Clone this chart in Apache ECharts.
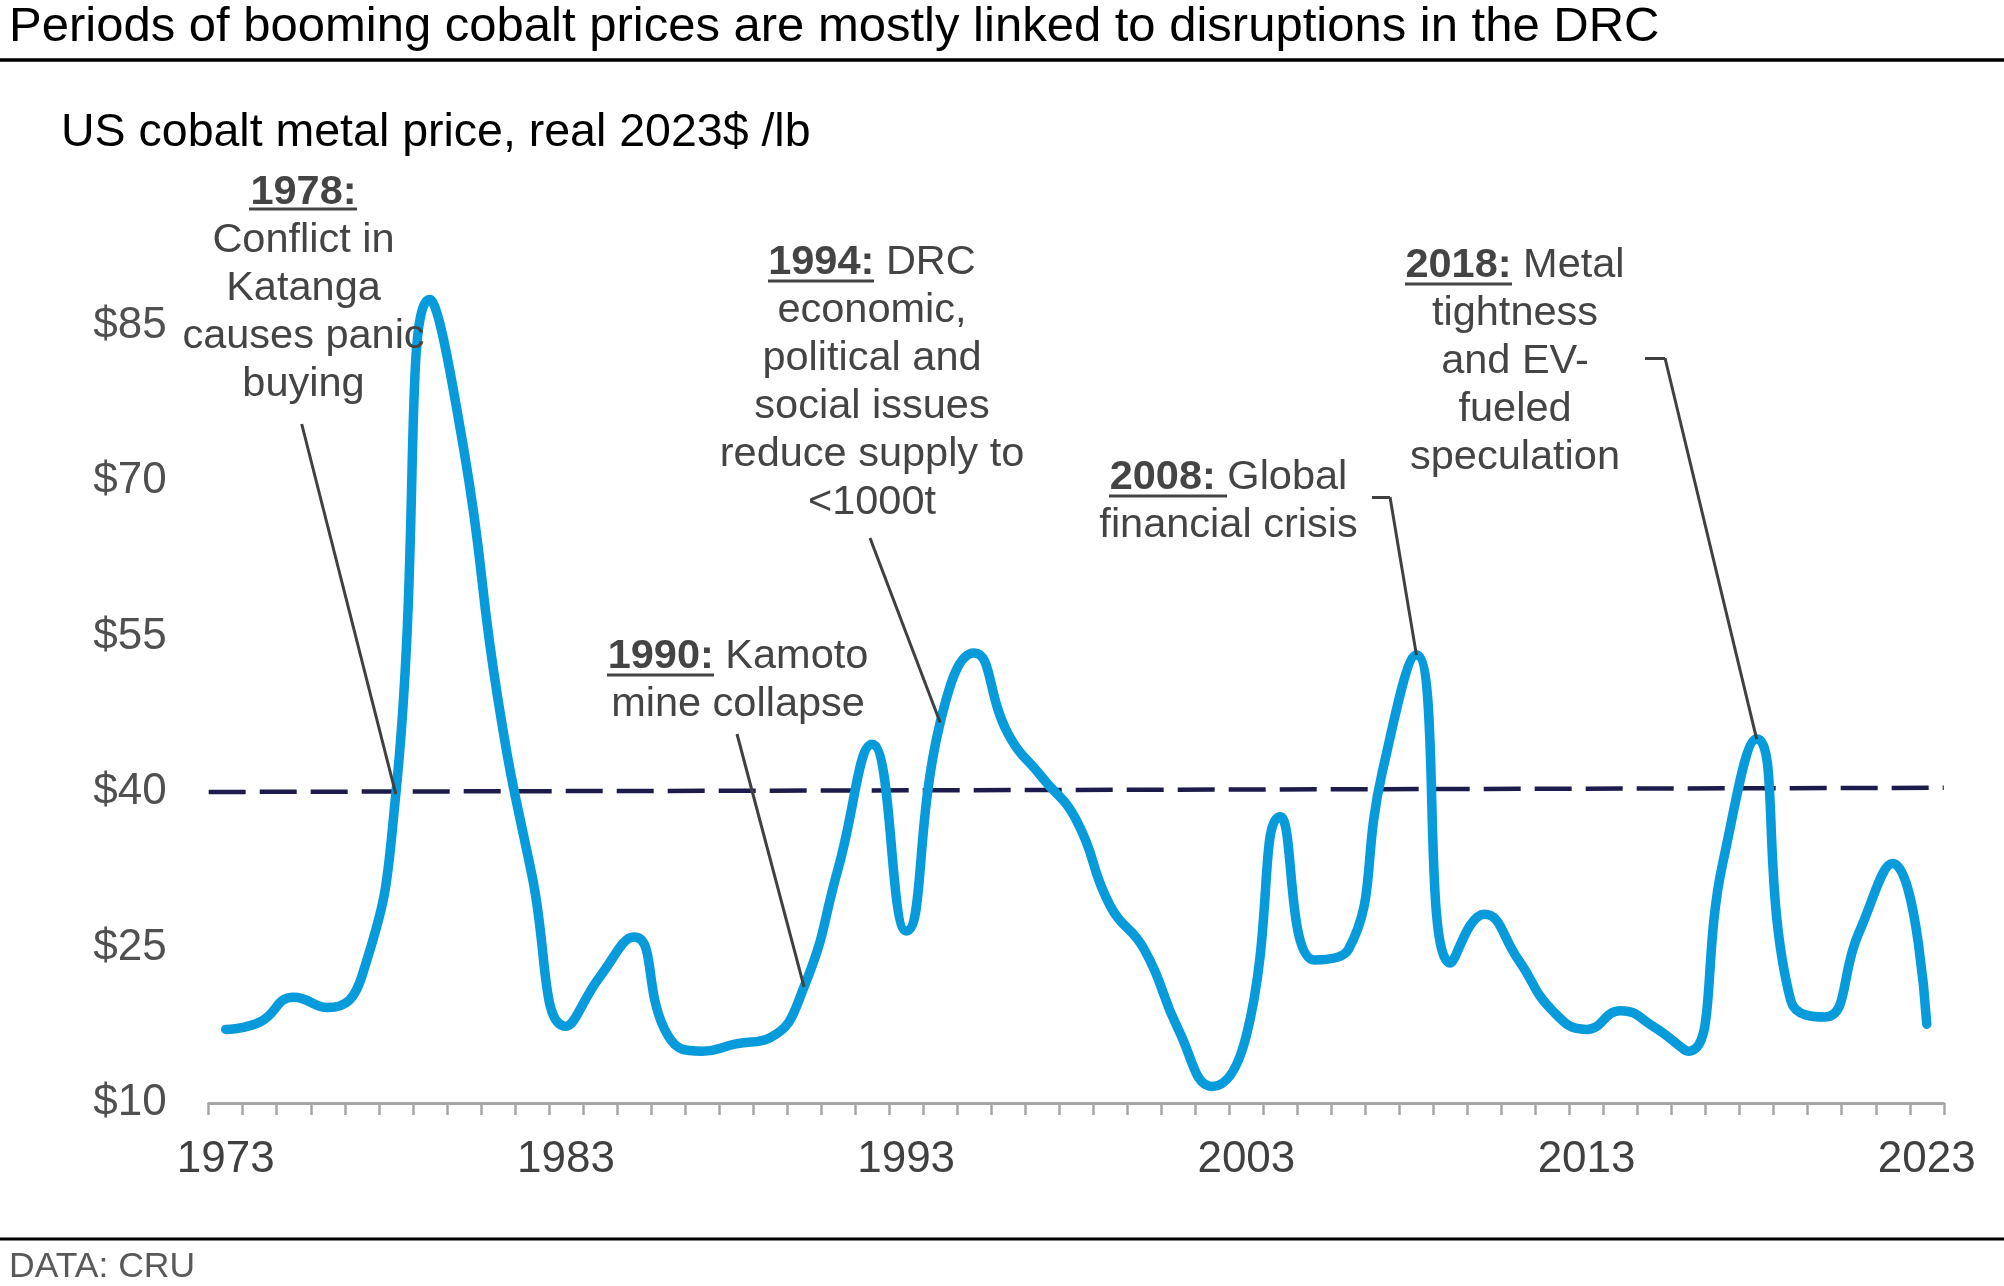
<!DOCTYPE html>
<html>
<head>
<meta charset="utf-8">
<script src="https://cdn.jsdelivr.net/npm/echarts@6/dist/echarts.min.js"></script>
<style>
html,body{margin:0;padding:0;background:#fff;}
#chart{width:2004px;height:1286px;}
</style>
</head>
<body>
<div id="chart"></div>
<script>
// ---- data ----
const years = [];
for (let y = 1973; y <= 2023; y++) years.push(String(y));
const prices = [
  17.1, 17.8, 20.2, 19.2, 22.2, 39.8, 87.5, 73.0, 49.0, 32.0,
  17.4, 22.2, 26.0, 16.5, 15.0, 15.7, 16.3, 21.2, 32.6, 44.6,
  26.6, 46.7, 53.4, 45.6, 41.4, 37.3, 29.0, 24.8, 17.1, 11.6,
  16.5, 37.6, 23.8, 24.8, 42.0, 53.2, 23.5, 28.2, 23.8, 18.9,
  17.1, 18.9, 17.3, 15.0, 33.1, 45.1, 19.9, 18.3, 26.4, 33.1,
  17.6
];
const avgLine = [40.0, 40.4];           // dashed reference line, start/end
const yTicks = [10, 25, 40, 55, 70, 85]; // tick labels shown
const titleText = 'Periods of booming cobalt prices are mostly linked to disruptions in the DRC';
const subtitleText = 'US cobalt metal price, real 2023$ /lb';
const sourceText = 'DATA: CRU';
const notes = [
  {year: '1978', text: '{b|1978:}\nConflict in\nKatanga\ncauses panic\nbuying'},
  {year: '1990', text: '{b|1990:} Kamoto\nmine collapse'},
  {year: '1994', text: '{b|1994:} DRC\neconomic,\npolitical and\nsocial issues\nreduce supply to\n<1000t'},
  {year: '2008', text: '{b|2008: }Global\nfinancial crisis'},
  {year: '2018', text: '{b|2018:} Metal\ntightness\nand EV-\nfueled\nspeculation'}
];

// ---- chart ----
const FONT = "'Liberation Sans', Arial, Helvetica, sans-serif";
const GRAY = '#444444';
const chart = echarts.init(document.getElementById('chart'), null, {renderer: 'canvas'});

function val(y) { return prices[years.indexOf(y)]; }

// annotation layout (pixel placement of text blocks)
const noteLayout = {
  '1978': {x: 303.5, y: 169},
  '1990': {x: 738,   y: 633},
  '1994': {x: 872,   y: 239},
  '2008': {x: 1228.5, y: 454},
  '2018': {x: 1515,  y: 242}
};
const underlines = [
  [249, 357, 209],
  [607, 714, 675],
  [768, 874, 281],
  [1109, 1227, 496],
  [1405, 1512, 284]
];

const graphics = [
  {type:'text', x: 9, y: 27.5, style:{text: titleText, font: '49px ' + FONT, fill:'#000', align:'left', verticalAlign:'middle'}},
  {type:'line', shape:{x1:0, y1:60, x2:2004, y2:60}, style:{stroke:'#000', lineWidth:3.5}},
  {type:'text', x: 61, y: 133, style:{text: subtitleText, font: '46.5px ' + FONT, fill:'#000', align:'left', verticalAlign:'middle'}},
  {type:'line', shape:{x1:0, y1:1239, x2:2004, y2:1239}, style:{stroke:'#000', lineWidth:3}},
  {type:'text', x: 9, y: 1267, style:{text: sourceText, font: '35.5px ' + FONT, fill:'#595959', align:'left', verticalAlign:'middle'}}
];
notes.forEach(n => {
  const p = noteLayout[n.year];
  graphics.push({
    type:'text', x: p.x, y: p.y, z: 10,
    style:{
      text: n.text, fontSize: 41.5, fontFamily: FONT, fill: GRAY,
      align:'center', verticalAlign:'top', lineHeight: 48,
      rich:{ b:{fontWeight:'bold', fontSize:41.5, fontFamily: FONT, fill: GRAY, lineHeight:48} }
    }
  });
});
underlines.forEach(u => {
  graphics.push({type:'line', z:10, shape:{x1:u[0], y1:u[2], x2:u[1], y2:u[2]}, style:{stroke:GRAY, lineWidth:3}});
});

const leaderStyle = {color:'#404040', width:3, type:'solid'};
const leaders = [
  [{x:301.7, y:424}, {coord:['1978', val('1978')]}],
  [{x:737, y:734}, {coord:['1990', val('1990')]}],
  [{x:870, y:538}, {coord:['1994', val('1994')]}],
  [{x:1372, y:497}, {x:1390, y:497}],
  [{x:1390, y:497}, {coord:['2008', val('2008')]}],
  [{x:1645, y:358}, {x:1665, y:358}],
  [{x:1665, y:358}, {coord:['2018', val('2018')]}]
];

const option = {
  animation: false,
  backgroundColor: '#ffffff',
  grid: {left: 208.7, right: 60.2, top: 273.6, bottom: 183, containLabel: false},
  xAxis: [
    {
      type:'category', data: years, boundaryGap: true,
      axisLine:{show:true, lineStyle:{color:'#a6a6a6', width:3}},
      axisTick:{show:true, interval:0, length:12, lineStyle:{color:'#a6a6a6', width:2.5}},
      axisLabel:{interval:9, margin:35, fontSize:44, fontFamily:FONT, color:'#404040'},
      splitLine:{show:false}
    },
    {type:'value', min:0, max:51, show:false}
  ],
  yAxis: {
    type:'value', min:10, max:90, interval:15,
    axisLine:{show:false}, axisTick:{show:false}, splitLine:{show:false},
    axisLabel:{
      margin:42, fontSize:44, fontFamily:FONT, color:'#505050', showMaxLabel:false,
      formatter: v => yTicks.indexOf(v) >= 0 ? '$' + v : ''
    }
  },
  graphic: graphics,
  series: [
    {
      type:'line', data: avgLine.map((v, i) => [i === 0 ? 0 : 51, v]),
      xAxisIndex:1, yAxisIndex:0, symbol:'none', silent:true, z:1,
      lineStyle:{color:'#1c1b4b', width:4.5, type:[37,14]}
    },
    {
      type:'line', data: prices, xAxisIndex:0, yAxisIndex:0,
      smooth: 0.5, symbol:'none', z:3, clip:false,
      lineStyle:{color:'#089bdb', width:9.5, cap:'round', join:'round'},
      markLine:{
        silent:true, symbol:['none','none'], label:{show:false},
        lineStyle: leaderStyle, z:5,
        data: leaders
      }
    }
  ]
};
chart.setOption(option);
</script>
</body>
</html>
